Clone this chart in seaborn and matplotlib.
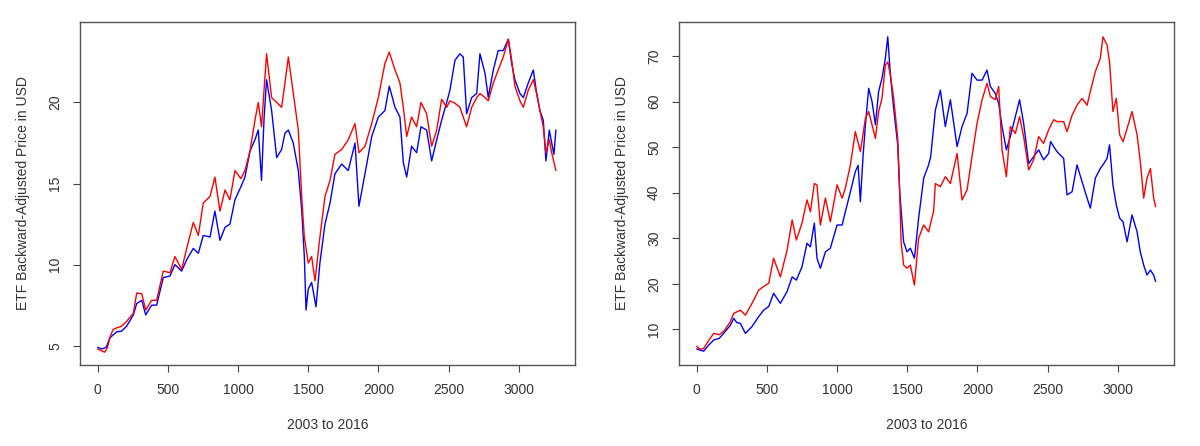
import matplotlib
matplotlib.use("Agg")
import matplotlib.pyplot as plt
import seaborn as sns

# --- data (trading-day index, price) ---
left_blue_idx = [0, 30, 60, 88, 135, 170, 206, 254, 278, 314, 342, 384, 420, 467, 515, 550, 598, 634,
                 681, 717, 752, 800, 835, 871, 907, 942, 978, 1020, 1049, 1085, 1120, 1144, 1167, 1185,
                 1203, 1239, 1275, 1310, 1334, 1358, 1393, 1429, 1453, 1472, 1484, 1500, 1524, 1555,
                 1583, 1619, 1655, 1690, 1738, 1785, 1833, 1861, 1904, 1952, 1999, 2046, 2077, 2118,
                 2153, 2177, 2201, 2236, 2272, 2303, 2343, 2379, 2415, 2450, 2486, 2509, 2545, 2580,
                 2604, 2628, 2664, 2700, 2723, 2759, 2782, 2818, 2853, 2889, 2925, 2949, 2972, 3008,
                 3032, 3067, 3103, 3127, 3150, 3174, 3193, 3217, 3234, 3250, 3264]
left_blue_val = [4.9, 4.8, 4.9, 5.5, 5.85, 5.9, 6.2, 6.9, 7.6, 7.8, 6.9, 7.5, 7.5, 9.2, 9.3, 10.0, 9.6, 10.3,
                 11.0, 10.7, 11.8, 11.7, 13.3, 11.5, 12.3, 12.5, 14.0, 14.8, 15.4, 17.0, 17.7, 18.3, 15.2, 19.0,
                 21.4, 19.5, 16.6, 17.1, 18.1, 18.3, 17.5, 15.8, 13.4, 10.5, 7.2, 8.5, 8.9, 7.4,
                 10.1, 12.5, 13.8, 15.6, 16.2, 15.8, 17.5, 13.6, 15.6, 17.9, 19.1, 19.5, 21.0, 19.7,
                 19.1, 16.3, 15.4, 17.3, 16.9, 18.5, 18.3, 16.4, 17.7, 18.9, 20.0, 20.75, 22.6, 23.0,
                 22.8, 19.3, 20.3, 20.55, 23.0, 21.8, 20.3, 22.0, 23.2, 23.2, 23.9, 22.4, 21.4, 20.55,
                 20.3, 21.2, 22.0, 20.55, 19.5, 18.9, 16.4, 18.3, 17.5, 16.8, 18.3]

left_red_idx = [0, 25, 50, 70, 88, 110, 135, 170, 206, 254, 278, 314, 342, 384, 420, 467, 515, 550, 598,
                634, 681, 717, 752, 800, 835, 871, 907, 942, 978, 1020, 1049, 1085, 1120, 1144, 1167,
                1203, 1239, 1275, 1310, 1334, 1358, 1393, 1429, 1453, 1472, 1500, 1524, 1548, 1583,
                1619, 1655, 1690, 1738, 1785, 1833, 1861, 1904, 1952, 1999, 2046, 2077, 2118, 2153,
                2177, 2201, 2236, 2272, 2303, 2343, 2379, 2415, 2450, 2486, 2509, 2545, 2580, 2604,
                2628, 2664, 2700, 2723, 2759, 2782, 2818, 2853, 2889, 2925, 2949, 2972, 3008, 3032,
                3067, 3103, 3127, 3150, 3174, 3193, 3217, 3234, 3250, 3264]
left_red_val = [4.8, 4.7, 4.6, 4.9, 5.55, 6.0, 6.1, 6.2, 6.5, 7.0, 8.25, 8.2, 7.2, 7.8, 7.8, 9.6, 9.5, 10.5, 9.7,
                11.0, 12.6, 11.8, 13.8, 14.2, 15.4, 13.3, 14.6, 14.0, 15.8, 15.3, 15.8, 17.0, 18.9, 20.0, 18.5,
                23.0, 20.3, 20.0, 19.7, 21.2, 22.8, 20.6, 18.3, 14.2, 11.7, 10.1, 10.5, 9.0, 11.7,
                14.2, 15.2, 16.8, 17.1, 17.7, 18.7, 16.9, 17.3, 18.7, 20.3, 22.4, 23.1, 22.0, 21.2,
                19.7, 17.9, 19.1, 18.5, 20.0, 19.3, 17.3, 18.3, 20.2, 19.7, 20.1, 19.95, 19.7, 19.1,
                18.5, 19.7, 20.3, 20.55, 20.3, 20.1, 21.2, 22.0, 22.8, 23.9, 22.6, 21.0, 20.1, 19.7,
                20.75, 21.4, 20.55, 19.5, 18.5, 16.9, 17.7, 16.9, 16.3, 15.8]

right_blue_idx = [0, 25, 50, 85, 121, 160, 192, 240, 264, 285, 311, 347, 394, 442, 477, 513, 548, 596,
                  644, 680, 710, 750, 786, 810, 838, 857, 881, 917, 952, 1000, 1036, 1059, 1095, 1130,
                  1150, 1166, 1185, 1202, 1225, 1249, 1273, 1296, 1320, 1344, 1361, 1380, 1403, 1432,
                  1446, 1474, 1498, 1522, 1551, 1581, 1617, 1652, 1667, 1700, 1736, 1771, 1807, 1855,
                  1890, 1926, 1961, 1997, 2033, 2068, 2092, 2127, 2151, 2175, 2206, 2234, 2270, 2300,
                  2329, 2365, 2400, 2436, 2471, 2507, 2521, 2543, 2567, 2614, 2638, 2674, 2709, 2745,
                  2781, 2804, 2840, 2875, 2894, 2923, 2941, 2965, 2989, 3013, 3037, 3066, 3101, 3137,
                  3160, 3184, 3208, 3232, 3255, 3269]
right_blue_val = [5.7, 5.4, 5.2, 6.5, 7.65, 8.0, 9.1, 10.9, 12.4, 11.5, 11.3, 9.1, 10.6, 12.8, 14.2, 15.0, 17.9, 15.7,
                  18.3, 21.5, 20.8, 23.7, 28.9, 28.1, 33.3, 25.6, 23.4, 27.0, 27.8, 32.9, 32.9, 35.8, 40.2, 44.6,
                  46.0, 38.0, 48.0, 54.9, 62.9, 60.0, 54.9, 62.2, 65.1, 69.5, 74.2, 65.8, 58.5, 50.5,
                  40.2, 29.2, 27.0, 27.8, 25.6, 34.4, 43.2, 46.1, 47.9, 58.1, 62.5, 54.5, 60.4, 50.1,
                  54.5, 57.4, 66.2, 64.7, 64.7, 66.9, 63.3, 61.8, 59.6, 54.5, 49.4, 52.3, 56.7, 60.4,
                  55.2, 46.4, 47.9, 49.4, 47.2, 48.6, 51.2, 50.1, 49.0, 47.5, 39.5, 40.2, 46.1, 42.4,
                  38.8, 36.6, 43.2, 45.3, 46.1, 47.5, 50.5, 41.7, 37.3, 34.4, 33.6, 29.2, 35.1, 31.4,
                  27.0, 24.1, 21.9, 23.0, 21.9, 20.5]

right_red_idx = [0, 25, 50, 85, 121, 160, 192, 240, 264, 311, 347, 394, 442, 477, 513, 548, 596, 644,
                 680, 710, 750, 786, 810, 838, 857, 881, 917, 952, 1000, 1036, 1059, 1095, 1130, 1166,
                 1202, 1225, 1249, 1273, 1296, 1320, 1344, 1361, 1380, 1403, 1432, 1446, 1456, 1474,
                 1498, 1522, 1551, 1581, 1617, 1652, 1688, 1700, 1736, 1771, 1807, 1855, 1890, 1926,
                 1961, 1997, 2033, 2068, 2092, 2127, 2151, 2175, 2206, 2234, 2270, 2300, 2329, 2365,
                 2400, 2436, 2471, 2507, 2543, 2567, 2614, 2638, 2674, 2709, 2745, 2781, 2804, 2840,
                 2875, 2894, 2923, 2941, 2965, 2989, 3013, 3037, 3066, 3101, 3137, 3160, 3184, 3208,
                 3232, 3255, 3269]
right_red_val = [6.3, 5.6, 5.8, 7.5, 9.1, 8.8, 9.5, 11.7, 13.5, 14.2, 13.1, 15.7, 18.6, 19.4, 20.1, 25.6, 21.5, 27.4,
                 34.0, 29.6, 33.3, 38.4, 35.8, 42.0, 41.7, 32.9, 38.8, 33.6, 41.7, 38.8, 41.0, 46.1, 53.4, 49.0,
                 56.3, 57.8, 54.9, 51.9, 57.8, 60.7, 68.0, 68.7, 65.8, 60.7, 51.9, 40.2, 29.2, 24.1,
                 23.4, 24.1, 19.7, 30.0, 32.9, 31.4, 36.0, 42.0, 41.3, 43.5, 42.0, 48.6, 38.4, 40.6,
                 47.9, 55.2, 60.4, 64.0, 61.1, 60.4, 63.3, 49.4, 43.5, 54.5, 53.0, 56.7, 52.3, 45.0,
                 47.2, 52.3, 50.8, 53.8, 56.0, 55.6, 55.6, 53.4, 57.0, 59.2, 60.7, 59.2, 62.2, 66.6,
                 69.5, 74.2, 72.4, 68.7, 57.8, 60.7, 52.7, 51.2, 54.1, 57.8, 52.7, 46.8, 38.8, 43.2,
                 45.3, 38.8, 36.9]

x_ticks = [0, 500, 1000, 1500, 2000, 2500, 3000]
left_y_ticks = [5, 10, 15, 20]
right_y_ticks = [10, 20, 30, 40, 50, 60, 70]

sns.set_style("white")
plt.rcParams["font.family"] = ["Liberation Sans", "DejaVu Sans"]

fig = plt.figure(figsize=(12, 4.46), dpi=100)
ax1 = fig.add_axes([80 / 1200, 81 / 446, 495 / 1200, 343 / 446])
ax2 = fig.add_axes([679 / 1200, 81 / 446, 495 / 1200, 343 / 446])

panels = [
    (ax1, left_blue_idx, left_blue_val, left_red_idx, left_red_val, left_y_ticks, (3.81, 24.96)),
    (ax2, right_blue_idx, right_blue_val, right_red_idx, right_red_val, right_y_ticks, (2.16, 77.46)),
]

for ax, bx, by, rx, ry, yt, ylim in panels:
    sns.lineplot(x=bx, y=by, color="blue", linewidth=1.0, ax=ax)
    sns.lineplot(x=rx, y=ry, color="red", linewidth=1.0, ax=ax)
    ax.set_xlim(-126, 3400)
    ax.set_ylim(*ylim)
    ax.set_xticks(x_ticks)
    ax.set_yticks(yt)
    # R-style outward ticks (seaborn "white" turns them off)
    ax.tick_params(bottom=True, left=True, direction="out", length=5, width=0.8,
                   color="#444444", labelcolor="#333333", labelsize=10, pad=8)
    plt.setp(ax.get_yticklabels(), rotation=90, va="center")
    for s in ax.spines.values():
        s.set_color("#555555")
        s.set_linewidth(1.0)
    ax.set_xlabel("2003 to 2016", fontsize=10, color="#333333")
    ax.set_ylabel("ETF Backward-Adjusted Price in USD", fontsize=10, color="#333333")
    ax.xaxis.set_label_coords(0.5, -0.155)
    ax.yaxis.set_label_coords(-0.102, 0.5)

fig.savefig("out.png", dpi=100)
